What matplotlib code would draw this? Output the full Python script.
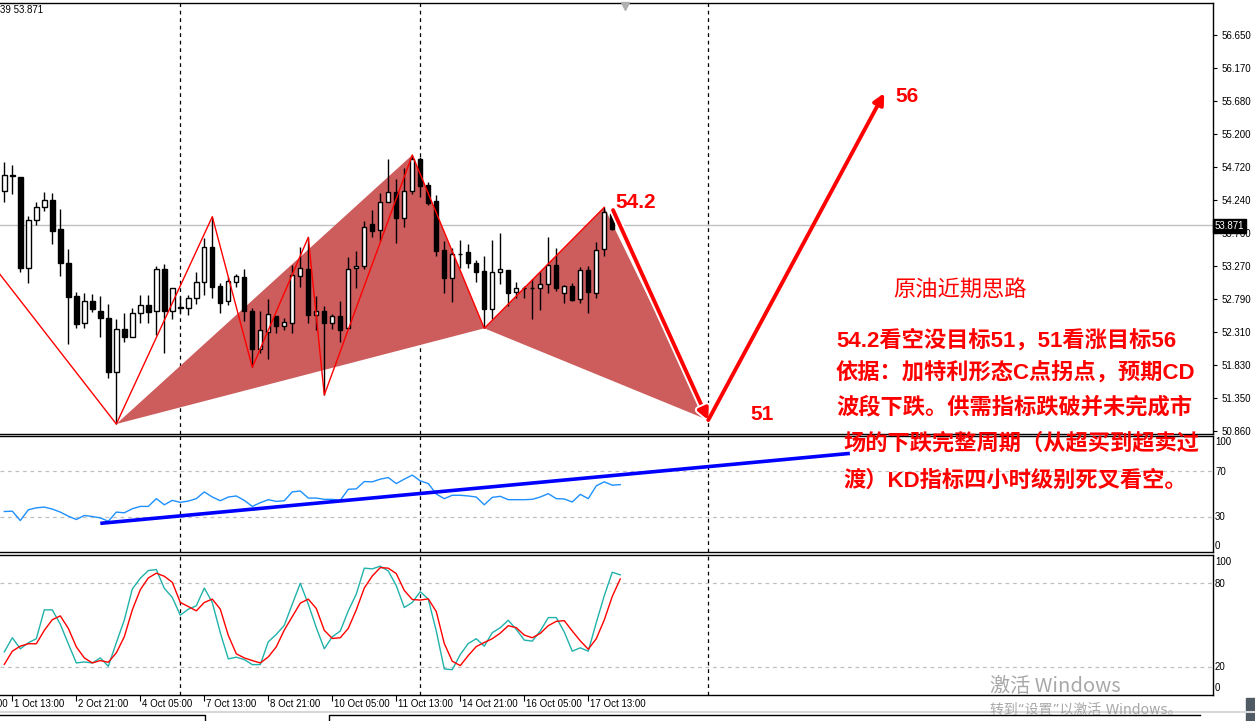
import numpy as np
import matplotlib
matplotlib.use('Agg')
import matplotlib.pyplot as plt
import matplotlib.patheffects as pe
import matplotlib.transforms as mtransforms
from matplotlib.lines import Line2D
from matplotlib.patches import Polygon, Rectangle

# H4 candles
opens = [54.374, 54.604, 54.570, 53.239, 53.940, 54.131, 54.238, 53.814, 53.313, 52.835,
         52.435, 52.766, 52.619, 52.508, 51.719, 52.348, 52.231, 52.590, 52.699, 52.619,
         53.229, 52.619, 52.678, 52.655, 52.801, 53.044, 53.555, 52.981, 52.766, 53.044,
         53.108, 52.615, 52.055, 52.313, 52.542, 52.400, 52.444, 53.131, 53.229, 52.561,
         52.615, 52.444, 52.542, 52.362, 53.239, 53.278, 53.887, 53.795, 54.213, 54.359,
         53.970, 54.374, 54.833, 54.457, 54.223, 53.507, 53.093, 53.444, 53.473, 53.313,
         53.200, 52.640, 53.181, 53.215, 52.888, 52.956, 52.956, 52.947, 53.006, 53.283,
         52.874, 52.981, 52.786, 53.210, 52.883, 53.517, 54.029, 53.814]
highs = [54.789, 54.750, 54.574, 54.009, 54.213, 54.359, 54.336, 54.106, 53.522, 52.897,
         52.874, 52.864, 52.835, 52.718, 52.494, 52.582, 52.655, 52.849, 52.849, 53.278,
         53.298, 52.947, 52.835, 52.849, 53.190, 53.678, 53.994, 53.029, 53.117, 53.156,
         53.229, 52.655, 52.611, 52.791, 52.542, 52.508, 53.288, 53.546, 53.693, 52.835,
         52.688, 52.567, 52.761, 53.409, 53.492, 53.931, 54.092, 54.336, 54.833, 54.541,
         54.701, 54.896, 54.871, 54.506, 54.311, 53.639, 53.541, 53.653, 53.590, 53.361,
         53.419, 53.653, 53.751, 53.215, 53.035, 52.981, 53.079, 53.190, 53.693, 53.532,
         52.995, 53.020, 53.254, 53.273, 53.620, 54.131, 54.082, 53.880]
lows = [54.213, 54.321, 53.190, 53.020, 53.873, 54.082, 53.595, 53.127, 52.133, 52.371,
        52.371, 52.605, 52.231, 51.631, 50.963, 52.166, 52.231, 52.444, 52.444, 52.264,
        52.006, 52.498, 52.586, 52.557, 52.718, 52.849, 52.810, 52.582, 52.703, 52.970,
        52.473, 51.792, 51.997, 51.913, 52.298, 52.337, 52.298, 52.970, 52.444, 52.337,
        51.387, 52.348, 52.166, 52.362, 52.947, 53.229, 53.693, 53.643, 54.213, 53.614,
        53.839, 54.326, 54.277, 54.165, 53.419, 52.883, 52.751, 53.239, 53.239, 53.044,
        52.362, 52.498, 53.006, 52.688, 52.810, 52.801, 52.494, 52.630, 52.883, 52.912,
        52.737, 52.766, 52.737, 52.590, 52.801, 53.419, 53.799, 53.800]
closes = [54.604, 54.584, 53.239, 53.946, 54.131, 54.238, 53.789, 53.321, 52.824, 52.421,
          52.766, 52.640, 52.508, 51.719, 52.348, 52.240, 52.590, 52.699, 52.601, 53.229,
          52.619, 52.947, 52.655, 52.801, 53.044, 53.555, 52.970, 52.736, 53.054, 53.127,
          52.619, 52.060, 52.337, 52.567, 52.400, 52.450, 53.142, 53.239, 52.557, 52.619,
          52.435, 52.542, 52.337, 53.225, 53.273, 53.848, 53.789, 54.213, 54.359, 53.970,
          54.374, 54.833, 54.447, 54.199, 53.497, 53.093, 53.444, 53.444, 53.313, 53.190,
          52.640, 53.181, 53.229, 52.883, 52.947, 52.956, 52.956, 53.006, 53.283, 52.947,
          52.981, 52.776, 53.210, 52.897, 53.503, 54.058, 53.814, 53.871]

rsi = [34.9, 35.2, 27.1, 36.4, 38.1, 38.7, 37.0, 34.4, 30.9, 28.0,
       31.5, 30.6, 29.4, 26.5, 34.4, 33.8, 37.3, 39.3, 39.3, 46.0,
       40.7, 44.5, 42.8, 43.9, 46.0, 51.8, 47.4, 44.2, 47.4, 48.3,
       44.5, 39.3, 42.5, 45.1, 43.6, 44.2, 51.8, 52.6, 46.5, 46.5,
       45.4, 45.4, 44.5, 54.1, 54.4, 60.7, 60.5, 62.8, 64.2, 59.0,
       62.8, 66.3, 61.3, 59.0, 50.0, 46.0, 48.9, 48.9, 48.3, 47.4,
       40.7, 47.1, 48.0, 45.1, 45.1, 45.1, 45.4, 47.4, 50.3, 46.0,
       45.7, 43.1, 49.7, 46.0, 57.0, 60.5, 57.6, 58.1]

stoch_k = [30.8, 40.9, 33.0, 37.3, 40.2, 60.8, 60.8, 50.5, 36.6, 22.9,
           23.6, 22.9, 26.5, 20.5, 37.3, 53.6, 75.7, 83.4, 88.9, 89.6,
           76.2, 69.7, 57.0, 61.3, 63.7, 76.4, 66.1, 44.5, 25.8, 27.0,
           25.3, 21.7, 21.7, 38.0, 43.3, 49.8, 64.9, 79.8, 64.9, 48.1,
           33.0, 41.6, 45.7, 60.1, 72.1, 90.6, 90.1, 92.0, 88.6, 78.1,
           62.5, 66.1, 73.8, 68.5, 45.7, 18.6, 18.1, 28.9, 36.8, 40.2,
           34.9, 44.5, 48.1, 53.4, 46.9, 39.2, 38.5, 45.7, 55.3, 55.3,
           45.0, 31.3, 33.7, 31.3, 51.7, 70.9, 87.7, 85.8]
stoch_d = [21.9, 31.3, 34.9, 36.6, 36.6, 46.2, 53.8, 56.5, 47.6, 34.4,
           26.5, 22.9, 24.6, 23.4, 30.1, 41.6, 60.8, 75.2, 83.6, 87.0,
           84.8, 80.5, 66.1, 63.2, 60.1, 66.1, 68.5, 61.3, 42.6, 29.4,
           26.5, 24.6, 22.9, 27.2, 34.4, 46.4, 56.0, 65.6, 68.5, 61.8,
           46.2, 40.4, 40.9, 47.6, 60.8, 76.4, 85.0, 91.0, 90.6, 86.7,
           74.7, 68.2, 67.8, 68.7, 59.6, 36.8, 24.1, 21.0, 28.2, 34.6,
           37.5, 40.2, 44.2, 49.5, 48.1, 42.8, 40.9, 44.0, 49.5, 52.6,
           53.1, 45.7, 38.7, 32.7, 40.2, 53.6, 70.4, 82.9]

# zigzag swings and the XABCD pattern (bar index, price)
zz_bar = [-0.54, 14, 26, 31, 38, 40, 51, 60, 75]
zz_price = [53.15, 50.963, 53.994, 51.792, 53.693, 51.387, 54.896, 52.362, 54.131]
xabcd_bar = [14, 51, 60, 75, 88]
xabcd_price = [50.963, 54.896, 52.362, 54.131, 51.02]
arrow_down = [(76.1, 54.09), (88, 51.02)]
arrow_up = [(88, 51.02), (110, 55.80)]
rsi_trend = [(12, 24.7), (105.7, 85.0)]

price_ticks = [56.650, 56.170, 55.680, 55.200, 54.720, 54.240, 53.760,
               53.270, 52.790, 52.310, 51.830, 51.350, 50.860]
last_price = 53.871
separators = [22, 52, 88]
time_bars = [-7, 1, 9, 17, 25, 33, 41, 49, 57, 65, 73]
time_labels = ['30 Sep 05:00', '1 Oct 13:00', '2 Oct 21:00', '4 Oct 05:00', '7 Oct 13:00',
               '8 Oct 21:00', '10 Oct 05:00', '11 Oct 13:00', '14 Oct 21:00',
               '16 Oct 05:00', '17 Oct 13:00']

W, H = 1255, 721
def fx(p):
    return p / W
def fy(p):
    return 1 - p / H

fig = plt.figure(figsize=(W / 100, H / 100), dpi=100)
fig.patch.set_facecolor('white')

ax = fig.add_axes([0, fy(434), fx(1213), (434 - 3) / H])
ax_rsi = fig.add_axes([0, fy(552), fx(1213), (552 - 436) / H])
ax_st = fig.add_axes([0, fy(695), fx(1213), (695 - 555) / H])

xlim = (-0.54, 151.1)
for a in (ax, ax_rsi, ax_st):
    a.set_xlim(*xlim)
    a.spines['left'].set_visible(False)
    for s in ('top', 'right', 'bottom'):
        a.spines[s].set_linewidth(1.0)
        a.spines[s].set_color('black')
    for b in separators:
        a.axvline(b, color='black', lw=0.9, ls=(0, (3, 3)), zorder=1)

lab_font = 'Liberation Sans'

# ---- price panel
ax.set_ylim(50.817, 57.118)
ax.yaxis.tick_right()
ax.set_yticks(price_ticks)
ax.set_yticklabels(['%.3f' % t for t in price_ticks], fontsize=7, family=lab_font)
ax.tick_params(axis='y', direction='out', length=3, width=0.8, pad=3)
ax.set_xticks([])

ax.axhline(last_price, color='#C0C0C0', lw=1, zorder=1)

xs = np.arange(len(opens))
ax.add_patch(Polygon(list(zip(xabcd_bar[:3], xabcd_price[:3])), closed=True,
                     facecolor='#CD5C5C', edgecolor='none', zorder=2))
ax.add_patch(Polygon(list(zip(xabcd_bar[2:], xabcd_price[2:])), closed=True,
                     facecolor='#CD5C5C', edgecolor='none', zorder=2))

ax.vlines(xs, lows, highs, color='black', lw=1, zorder=3)
o = np.array(opens)
c = np.array(closes)
bottoms = np.minimum(o, c)
heights = np.abs(c - o)
colors = ['white' if cc >= oo else 'black' for oo, cc in zip(o, c)]
ax.bar(xs, heights, 0.55, bottom=bottoms, color=colors, edgecolor='black', lw=1, zorder=4)

ax.plot(zz_bar, zz_price, color='red', lw=1, zorder=5, clip_on=True)

ax.annotate('', xy=arrow_down[1], xytext=arrow_down[0],
            arrowprops=dict(arrowstyle='-|>', color='red', lw=2.8, mutation_scale=16,
                            shrinkA=0, shrinkB=0,
                            path_effects=[pe.withStroke(linewidth=5.5, foreground='white')]),
            zorder=6)
ax.annotate('', xy=arrow_up[1], xytext=arrow_up[0],
            arrowprops=dict(arrowstyle='-|>', color='red', lw=2.8, mutation_scale=16,
                            shrinkA=0, shrinkB=0), zorder=6)

ax.plot([77.6], [57.07], marker='v', color='#B0B0B0', markersize=6, zorder=6, clip_on=False)

big = dict(color='red', fontsize=15, fontweight='bold', family=lab_font)
fig.text(fx(615), fy(202), '54.2', ha='left', va='center', **big)
fig.text(fx(895), fy(96), '56', ha='left', va='center', **big)
fig.text(fx(750), fy(414), '51', ha='left', va='center', **big)

fig.text(fx(0), fy(10), '39 53.871', ha='left', va='center', fontsize=7,
         family=lab_font, color='black')
fig.text(fx(1215), fy(226), '53.871', ha='left', va='center', fontsize=7,
         family=lab_font, color='white',
         bbox=dict(facecolor='black', edgecolor='black', pad=1.2), zorder=10)

# ---- RSI panel
ax_rsi.set_ylim(0, 100)
ax_rsi.set_xticks([])
ax_rsi.set_yticks([])
for v in (30, 70):
    ax_rsi.axhline(v, color='#C0C0C0', lw=0.9, ls=(0, (3, 3)), zorder=1)
ax_rsi.plot(xs, rsi, color='#1E90FF', lw=1, zorder=3)
ax_rsi.plot([p[0] for p in rsi_trend], [p[1] for p in rsi_trend], color='#0000FF',
            lw=2.6, zorder=4, solid_capstyle='butt')

# ---- Stochastic panel
ax_st.set_ylim(0, 100)
ax_st.set_yticks([])
for v in (20, 80):
    ax_st.axhline(v, color='#C0C0C0', lw=0.9, ls=(0, (3, 3)), zorder=1)
ax_st.plot(xs, stoch_k, color='#20B2AA', lw=1, zorder=3)
ax_st.plot(xs, stoch_d, color='red', lw=1, zorder=4)
ax_st.set_xticks(time_bars[1:])
ax_st.set_xticklabels([])
ax_st.tick_params(axis='x', direction='out', length=4, width=0.8)

tr = mtransforms.blended_transform_factory(ax_st.transData, fig.transFigure)
for b, lab in zip(time_bars, time_labels):
    ax_st.text(b + 0.25, fy(704), lab, transform=tr, ha='left', va='center',
               fontsize=7, family=lab_font, clip_on=False)

sub_labels = [(442, '100'), (472, '70'), (517, '30'), (546, '0'),
              (562, '100'), (584, '80'), (667, '20'), (688, '0')]
for py, lab in sub_labels:
    fig.text(fx(1215), fy(py), lab, ha='left', va='center', fontsize=7, family=lab_font)

# ---- text block
cjk = [lab_font, 'Noto Sans CJK SC']
fig.text(fx(893), fy(290), '原油近期思路', ha='left', va='center', fontsize=16,
         color='red', family=cjk)
lines = [(836, 340, '54.2看空没目标51，51看涨目标56'),
         (836, 373, '依据：加特利形态C点拐点，预期CD'),
         (836, 408, '波段下跌。供需指标跌破并未完成市'),
         (843, 444, '场的下跌完整周期（从超买到超卖过'),
         (843, 481, '渡）KD指标四小时级别死叉看空。')]
for px, py, t in lines:
    fig.text(fx(px), fy(py), t, ha='left', va='center', fontsize=16, color='red',
             fontweight='bold', family=cjk)

# ---- window chrome
fig.text(fx(990), fy(687), '激活 Windows', ha='left', va='center', fontsize=14.5,
         color='#A8A8A8', family=['Noto Sans CJK SC', 'DejaVu Sans'])
fig.text(fx(990), fy(710), '转到“设置”以激活 Windows。', ha='left', va='center', fontsize=10,
         color='#A8A8A8', family=['DejaVu Sans', 'Noto Sans CJK SC'])
fig.add_artist(Line2D([0, 1], [fy(712), fy(712)], color='#D8D8D8', lw=1.5))
fig.add_artist(Line2D([0, fx(205), fx(205)], [fy(715), fy(715), 0], color='black', lw=1))
fig.add_artist(Line2D([fx(329), fx(329), fx(1200)], [0, fy(715), fy(715)], color='black', lw=1))
fig.add_artist(Rectangle((fx(1246), 0), fx(9), fy(698), color='#505A64'))

fig.savefig('out.png', dpi=100)
